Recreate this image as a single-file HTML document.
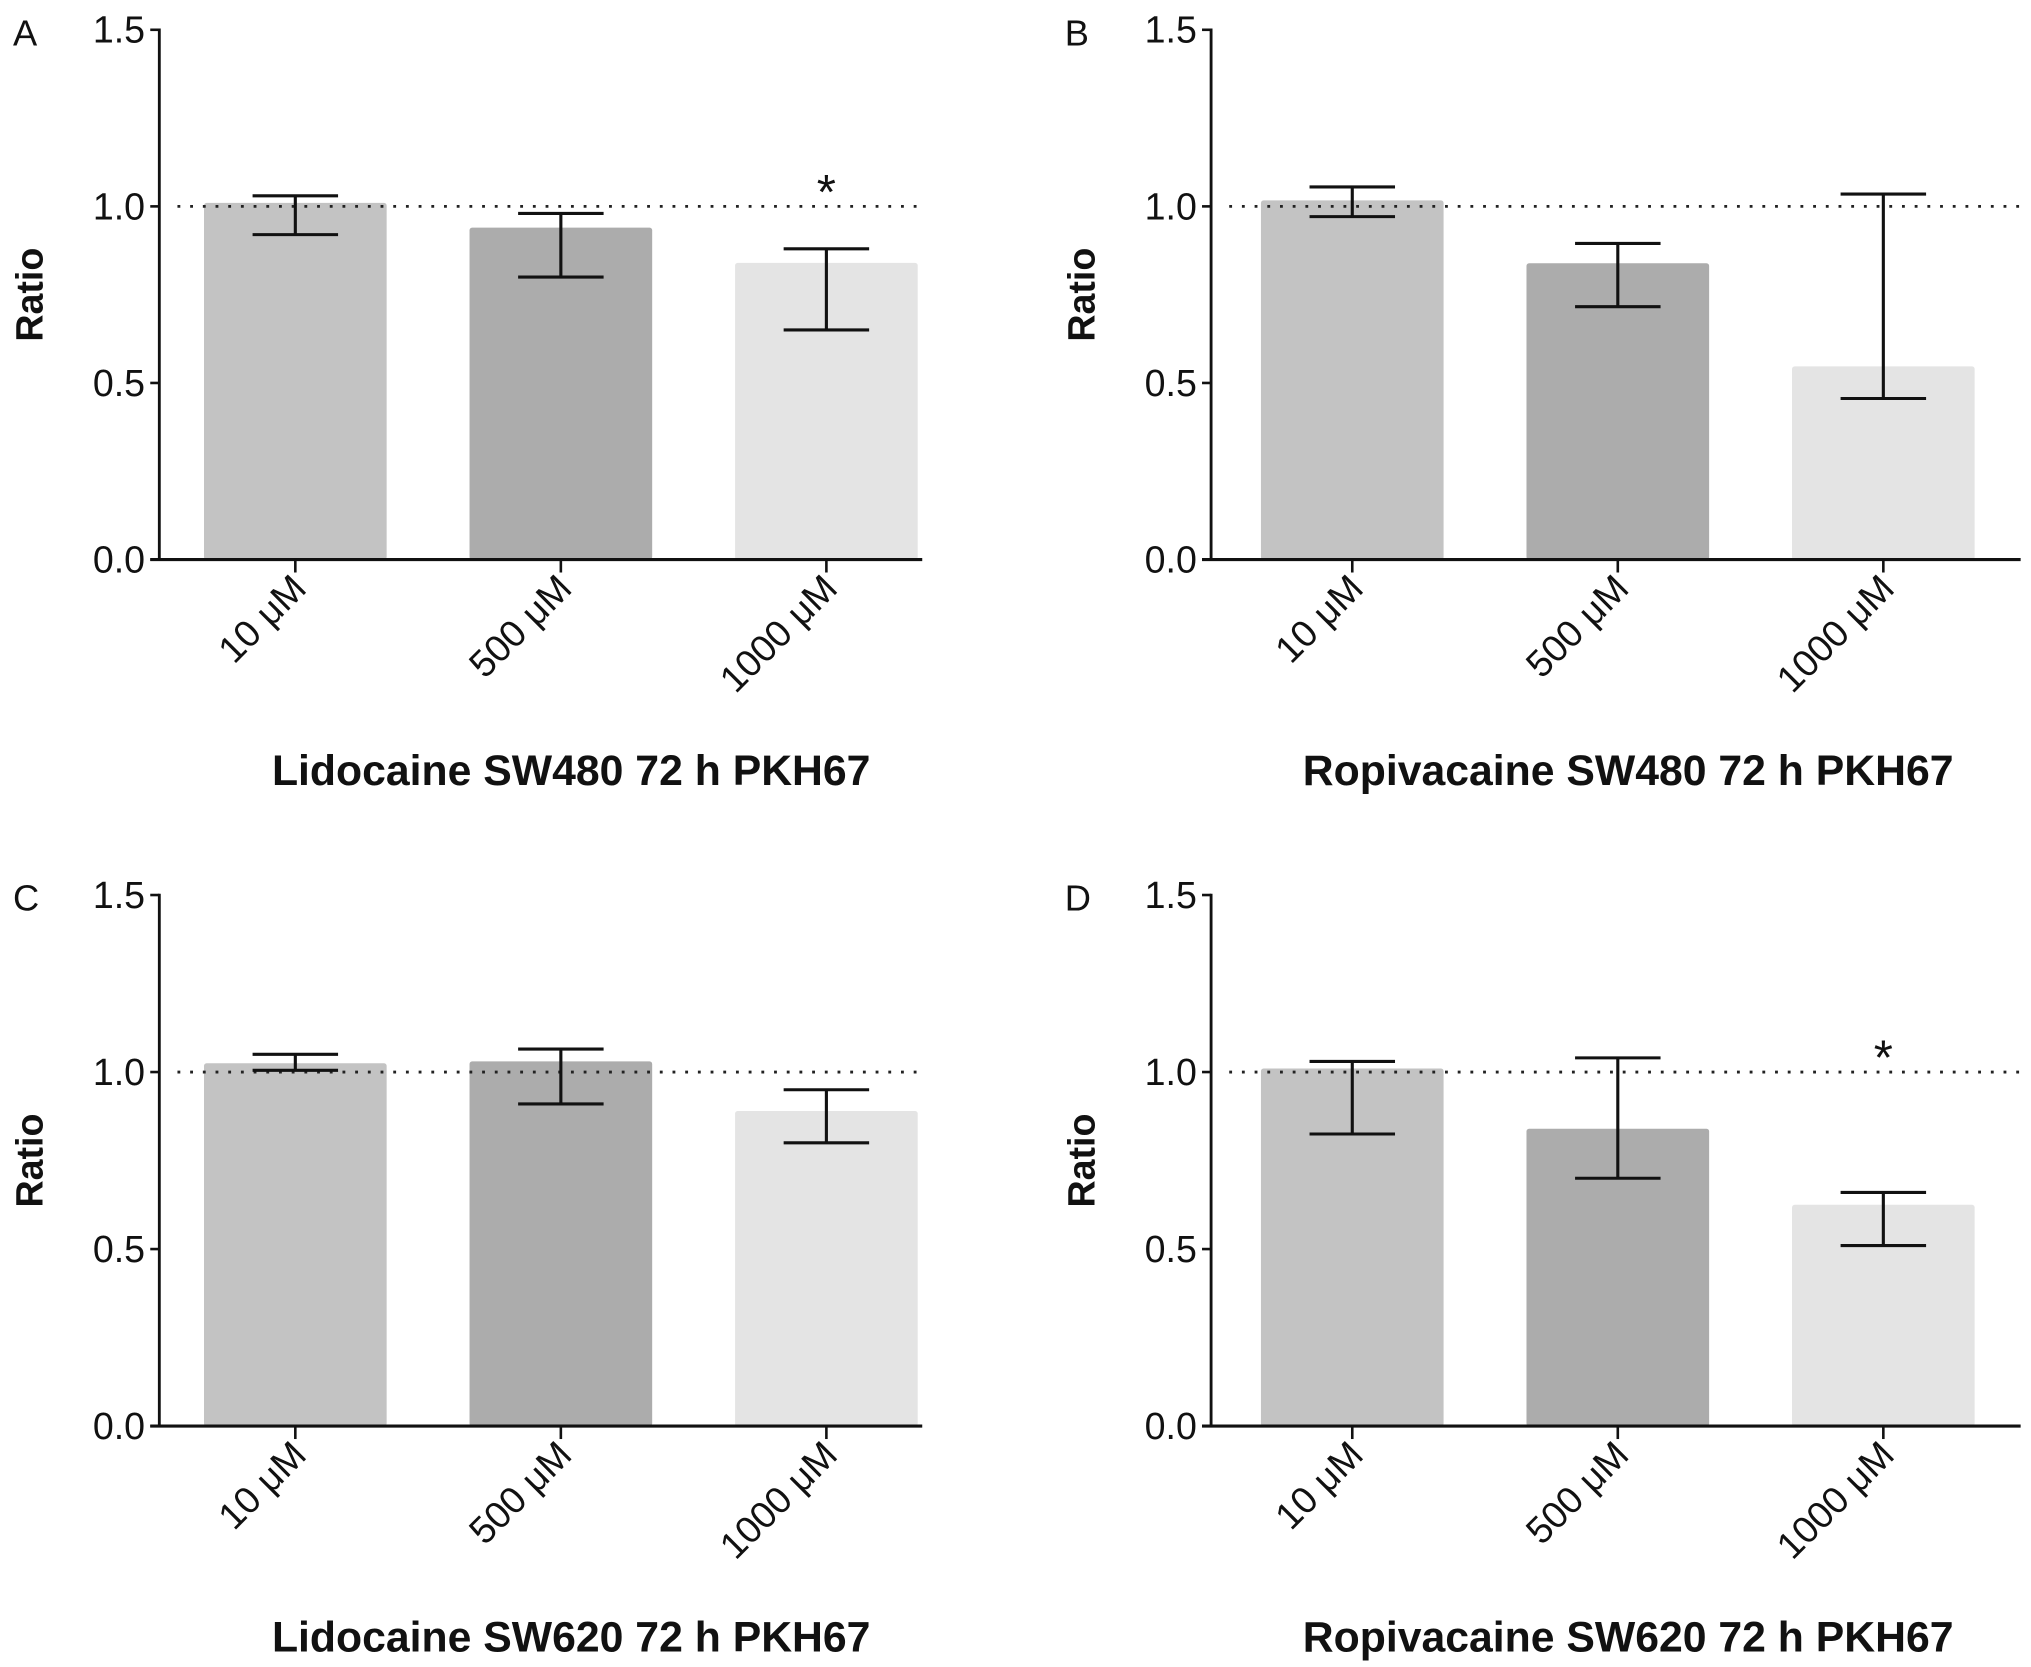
<!DOCTYPE html>
<html><head><meta charset="utf-8"><style>
html,body{margin:0;padding:0;background:#fff;}
svg{display:block;}
text{font-family:"Liberation Sans",Arial,sans-serif;fill:#111;}
</style></head><body>
<svg id="fig" width="2031" height="1667" viewBox="0 0 1568 1287" preserveAspectRatio="none" xmlns="http://www.w3.org/2000/svg"></svg>
<script>
const categories = ["10 \u03bcM", "500 \u03bcM", "1000 \u03bcM"];
const yTicks = [0, 0.5, 1.0, 1.5];
const yTickLabels = ["0.0", "0.5", "1.0", "1.5"];
const panelLetters = ["A", "B", "C", "D"];
const panelTitles = ["Lidocaine SW480 72 h PKH67", "Ropivacaine SW480 72 h PKH67", "Lidocaine SW620 72 h PKH67", "Ropivacaine SW620 72 h PKH67"];
const meanA = [1.01, 0.94, 0.84];
const upperA = [1.03, 0.98, 0.88];
const lowerA = [0.92, 0.80, 0.65];
const meanB = [1.017, 0.839, 0.547];
const upperB = [1.055, 0.895, 1.035];
const lowerB = [0.971, 0.716, 0.456];
const meanC = [1.025, 1.03, 0.89];
const upperC = [1.05, 1.065, 0.95];
const lowerC = [1.005, 0.91, 0.80];
const meanD = [1.01, 0.84, 0.625];
const upperD = [1.03, 1.04, 0.66];
const lowerD = [0.825, 0.70, 0.51];
const starsA = [false, false, true];
const starsB = [false, false, false];
const starsC = [false, false, false];
const starsD = [false, false, true];

const NS = "http://www.w3.org/2000/svg";
const svg = document.getElementById("fig");
const colors = ["#c3c3c3", "#acacac", "#e4e4e4"];
function mk(tag, attrs, parent) {
  const e = document.createElementNS(NS, tag);
  for (const k in attrs) e.setAttribute(k, attrs[k]);
  parent.appendChild(e);
  return e;
}
const layouts = [
  {ax: 123, y0: 432, y15: 23, right: 712, off: 105},
  {ax: 935, y0: 432, y15: 23, right: 1560, off: 109},
  {ax: 123, y0: 1101, y15: 691, right: 712, off: 105},
  {ax: 935, y0: 1101, y15: 691, right: 1560, off: 109}
];
const series = [[meanA, upperA, lowerA, starsA], [meanB, upperB, lowerB, starsB], [meanC, upperC, lowerC, starsC], [meanD, upperD, lowerD, starsD]];

layouts.forEach((L, p) => {
  const g = mk("g", {}, svg);
  
  
  const yS = v => L.y0 - (v / 1.5) * (L.y0 - L.y15);
  const xS = i => L.ax + L.off + i * 205;
  const bw = 141;
  const [mean, up, lo, st] = series[p];
  mean.forEach((v, i) => {
    const r = mk("rect", {x: xS(i) - bw / 2, y: yS(v), width: bw, height: L.y0 - yS(v), fill: colors[i], rx: 2}, g);
    
    
  });
  const ref = mk("line", {x1: L.ax + 14, x2: L.right, y1: yS(1), y2: yS(1), stroke: "#222", "stroke-width": 2.2, "stroke-dasharray": "2.2 7.6"}, g);
  
  
  mean.forEach((v, i) => {
    const eg = mk("g", {stroke: "#111", "stroke-width": 2.4}, g);
    
    
    mk("line", {x1: xS(i), x2: xS(i), y1: yS(up[i]), y2: yS(lo[i])}, eg);
    mk("line", {x1: xS(i) - 33, x2: xS(i) + 33, y1: yS(up[i]), y2: yS(up[i])}, eg);
    mk("line", {x1: xS(i) - 33, x2: xS(i) + 33, y1: yS(lo[i]), y2: yS(lo[i])}, eg);
    if (st[i]) {
      const s = mk("text", {x: xS(i), y: yS(1) + 2, "text-anchor": "middle", "font-size": 38}, g);
      s.textContent = "*";
      
      
    }
  });
  const ya = mk("line", {x1: L.ax, x2: L.ax, y1: L.y15 - 1, y2: L.y0 + 1, stroke: "#111", "stroke-width": 2.2}, g);
  
  
  const xa = mk("line", {x1: L.ax - 7, x2: L.right, y1: L.y0, y2: L.y0, stroke: "#111", "stroke-width": 2.4}, g);
  
  
  yTicks.forEach((t, k) => {
    mk("line", {x1: L.ax - 7, x2: L.ax, y1: yS(t), y2: yS(t), stroke: "#111", "stroke-width": 2}, g);
    const tl = mk("text", {x: L.ax - 11, y: yS(t) + 10, "text-anchor": "end", "font-size": 29}, g);
    tl.textContent = yTickLabels[k];
    
    
  });
  categories.forEach((c, i) => {
    mk("line", {x1: xS(i), x2: xS(i), y1: L.y0, y2: L.y0 + 10, stroke: "#111", "stroke-width": 2}, g);
    const ax = xS(i) + 10, ay = L.y0 + 24;
    const cl = mk("text", {x: ax, y: ay, "text-anchor": "end", "font-size": 29, transform: `rotate(-45 ${ax} ${ay})`}, g);
    cl.textContent = c;
    
    
  });
  const yt = mk("text", {x: 0, y: 0, "text-anchor": "middle", "font-size": 29, "font-weight": "bold", transform: `translate(${L.ax - 90} ${yS(0.75)}) rotate(-90)`}, g);
  yt.textContent = "Ratio";
  
  
  const pl = mk("text", {x: L.ax - 113, y: L.y15 + 12, "font-size": 28}, g);
  pl.textContent = panelLetters[p];
  
  
  const tt = mk("text", {x: xS(1) + 8, y: L.y0 + 174, "text-anchor": "middle", "font-size": 33, "font-weight": "bold"}, g);
  tt.textContent = panelTitles[p];
  
  
});
</script>
</body></html>
